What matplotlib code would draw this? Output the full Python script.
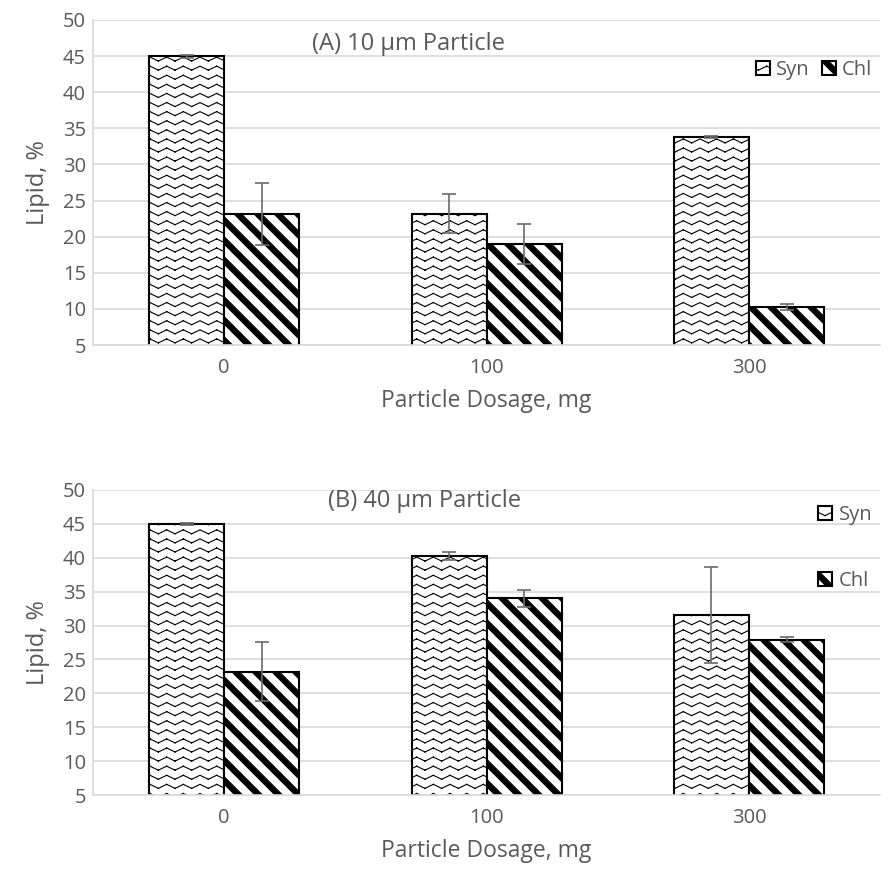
import numpy as np
import matplotlib
matplotlib.use("Agg")
import matplotlib.pyplot as plt
import matplotlib.hatch as mhatch
from matplotlib.path import Path


DOSAGES = ["0", "100", "300"]
SERIES = ["Syn", "Chl"]

syn_a = [45.0, 23.2, 33.8]
syn_a_err = [0.2, 2.7, 0.2]
chl_a = [23.2, 19.0, 10.3]
chl_a_err = [4.3, 2.8, 0.4]

syn_b = [45.0, 40.3, 31.6]
syn_b_err = [0.2, 0.6, 7.1]
chl_b = [23.2, 34.0, 27.9]
chl_b_err = [4.3, 1.3, 0.4]

TEXT = "#595959"
GRID = "#d9d9d9"
ERR = "#6b6b6b"


class WaveHatch(mhatch.HatchPatternBase):
    # excel-like wavy pattern, triggered by "~"
    def __init__(self, hatch, density):
        self.rows = 11 if "~" in hatch else 0
        self.steps = 12
        self.amp = 0.02
        self.num_vertices = self.rows * self.steps * 2

    def set_vertices_and_codes(self, vertices, codes):
        xs = np.arange(self.steps + 1) / self.steps
        sign = np.where(np.arange(self.steps + 1) % 2 == 0, 1.0, -1.0)
        i = 0
        for r in range(self.rows):
            y0 = (r + 0.5) / self.rows
            ys = y0 + self.amp * sign
            for j in range(self.steps):
                vertices[i] = (xs[j], ys[j])
                vertices[i + 1] = (xs[j + 1], ys[j + 1])
                codes[i] = Path.MOVETO
                codes[i + 1] = Path.LINETO
                i += 2


class StripeHatch(mhatch.HatchPatternBase):
    # thick "\" stripes as filled bands, triggered by "#"
    def __init__(self, hatch, density):
        self.n = 5 if "#" in hatch else 0
        self.w = 0.075
        self.count = (2 * self.n + 2) if self.n else 0
        self.num_vertices = self.count * 5

    def set_vertices_and_codes(self, vertices, codes):
        i = 0
        for k in range(-1, 2 * self.n + 1):
            c = k / self.n
            w = self.w
            pts = [(-1, c + 1), (2, c - 2), (2, c + w - 2), (-1, c + w + 1), (-1, c + 1)]
            for p in pts:
                vertices[i] = p
                i += 1
            codes[i - 5:i] = [Path.MOVETO, Path.LINETO, Path.LINETO, Path.LINETO, Path.CLOSEPOLY]


mhatch._hatch_types.extend([WaveHatch, StripeHatch])
mhatch._validate_hatch_pattern = lambda h: None

plt.rcParams.update({
    "font.family": ["Open Sans", "DejaVu Sans"],
    "hatch.linewidth": 0.8,
    "hatch.color": "black",
})


def draw_panel(ax, syn, syn_err, chl, chl_err, title, title_xy, legend_kw):
    x = np.arange(len(DOSAGES))
    w = 0.286
    ax.bar(x - w / 2, syn, w, color="white", edgecolor="black",
           linewidth=1.5, hatch="~", label=SERIES[0], zorder=2)
    ax.bar(x + w / 2, chl, w, color="white", edgecolor="black",
           linewidth=1.5, hatch="#", label=SERIES[1], zorder=2)
    ax.errorbar(x - w / 2, syn, yerr=syn_err, fmt="none", ecolor=ERR,
                elinewidth=1.2, capsize=5, capthick=1.2, zorder=3)
    ax.errorbar(x + w / 2, chl, yerr=chl_err, fmt="none", ecolor=ERR,
                elinewidth=1.2, capsize=5, capthick=1.2, zorder=3)

    ax.set_xlim(-0.5, 2.5)
    ax.set_ylim(5, 50)
    ax.set_yticks(np.arange(5, 51, 5))
    ax.set_xticks(x)
    ax.set_xticklabels(DOSAGES)
    ax.yaxis.grid(True, color=GRID, linewidth=1.2, zorder=0)
    ax.set_axisbelow(True)
    for s in ["top", "right"]:
        ax.spines[s].set_visible(False)
    for s in ["left", "bottom"]:
        ax.spines[s].set_color(GRID)
        ax.spines[s].set_linewidth(1.2)
    ax.tick_params(axis="y", length=0, labelsize=14.5, labelcolor=TEXT, pad=5)
    ax.tick_params(axis="x", length=0, labelsize=14.5, labelcolor=TEXT, pad=9)
    ax.set_ylabel("Lipid, %", fontsize=17, color=TEXT, labelpad=9)
    ax.set_xlabel("Particle Dosage, mg", fontsize=16.5, color=TEXT, labelpad=8)
    ax.text(title_xy[0], title_xy[1], title, transform=ax.transAxes,
            ha="left", va="center", fontsize=17, color=TEXT)
    leg = ax.legend(frameon=False, handlelength=0.7, handleheight=0.7,
                    handletextpad=0.3, borderaxespad=0, fontsize=14.5,
                    **legend_kw)
    for t in leg.get_texts():
        t.set_color(TEXT)


fig = plt.figure(figsize=(8.9, 8.77), dpi=100)
ax1 = fig.add_axes([0.1045, 0.6066, 0.8845, 0.3706])
ax2 = fig.add_axes([0.1045, 0.0935, 0.8845, 0.3478])

draw_panel(ax1, syn_a, syn_a_err, chl_a, chl_a_err, "(A) 10 µm Particle",
           (0.278, 0.925),
           dict(loc="center right", bbox_to_anchor=(1.0, 0.846), ncol=2,
                columnspacing=0.6))
draw_panel(ax2, syn_b, syn_b_err, chl_b, chl_b_err, "(B) 40 µm Particle",
           (0.298, 0.965),
           dict(loc="center right", bbox_to_anchor=(1.0, 0.81), ncol=1,
                labelspacing=2.3))

fig.savefig("out.png", dpi=100)
